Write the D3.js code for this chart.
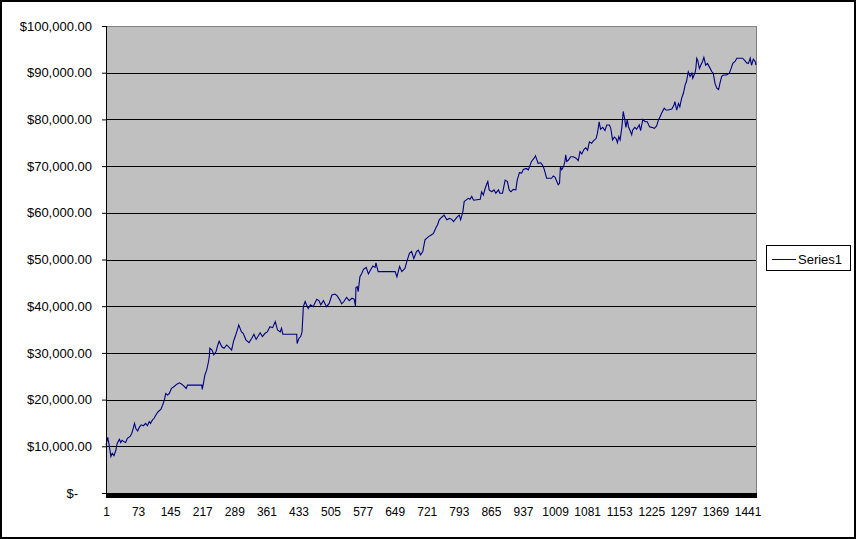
<!DOCTYPE html>
<html>
<head>
<meta charset="utf-8">
<script src="https://cdn.jsdelivr.net/npm/d3@7"></script>
<style>
  html, body { margin: 0; padding: 0; background: #fff; }
  svg { display: block; }
  text { font-family: "Liberation Sans", Arial, sans-serif; font-size: 13px; fill: #000; }
</style>
</head>
<body>
<svg id="chart" width="856" height="539"></svg>
<script>
// ---- data ----
const seriesName = "Series1";
const pointCount = 1460;
const steps = [
  1,5,8,12,15,19,23,26,31,34,
  37,41,45,49,55,59,62,65,68,72,
  76,80,85,90,94,98,101,105,109,113,
  118,124,128,132,135,139,143,148,154,160,
  166,171,176,181,184,190,216,217,219,223,
  227,231,233,234,239,243,248,252,255,261,
  266,272,279,283,287,291,296,299,305,309,
  315,322,328,333,338,342,347,352,358,363,
  369,375,381,386,392,395,398,429,430,434,
  438,441,444,448,451,455,460,466,474,479,
  483,489,496,502,508,515,520,526,530,535,
  541,547,553,558,561,562,565,567,571,575,
  579,585,590,595,600,605,607,610,612,650,
  654,657,660,665,672,676,682,687,692,698,
  702,707,712,717,725,730,736,742,745,749,
  754,760,766,772,777,781,784,790,794,797,
  802,805,809,814,818,822,826,841,844,848,
  852,855,858,861,867,872,876,882,885,891,
  894,897,902,906,910,915,921,924,929,934,
  938,944,949,953,956,962,965,968,971,977,
  981,984,987,990,1001,1005,1009,1013,1016,1019,
  1021,1024,1028,1031,1033,1035,1039,1044,1050,1056,
  1061,1065,1069,1074,1078,1082,1086,1091,1095,1101,
  1104,1108,1111,1116,1121,1125,1131,1134,1138,1142,
  1146,1149,1152,1155,1159,1162,1165,1168,1171,1174,
  1177,1181,1183,1188,1192,1198,1201,1206,1211,1216,
  1221,1226,1232,1237,1241,1245,1248,1254,1258,1263,
  1271,1276,1278,1282,1286,1289,1293,1297,1301,1304,
  1308,1312,1316,1318,1321,1323,1325,1327,1329,1333,
  1336,1340,1343,1347,1351,1355,1361,1364,1368,1372,
  1376,1379,1383,1387,1394,1400,1403,1408,1413,1417,
  1424,1430,1435,1439,1443,1447,1450,1454,1458,1460
];
const equity = [
  10300,11900,10300,7800,8500,8000,9100,10600,11500,10800,
  11300,11000,10800,11700,12100,12800,13800,14900,13800,13300,
  14100,14600,14400,14900,14400,15300,14900,15600,16000,16700,
  17400,17900,18800,19900,21300,21000,21300,22400,22800,23300,
  23600,23300,22900,22400,23100,23100,23100,22200,23100,25300,
  26300,28100,29300,31000,30600,29600,30300,31700,32500,31300,
  31000,31700,31000,30600,32400,33500,35000,36000,34500,34200,
  32800,32200,33100,34000,32900,33500,34300,33500,34200,34500,
  35600,35400,36700,34900,34500,35300,34000,34000,32000,33100,
  33500,34500,39900,41000,40300,39500,40300,39900,41500,41200,
  40300,41200,39900,40600,42400,42600,42200,41300,40500,41000,
  41900,41200,41700,41500,40000,44000,44200,43100,46300,47000,
  47900,48300,46900,47800,48600,48300,49300,48100,47400,47400,
  46300,47400,48500,47400,48100,49500,51300,51700,50200,51700,
  52000,51000,51700,54200,54900,55200,55600,56900,57400,58500,
  59000,59500,58500,58800,58600,58100,58500,59200,59500,58500,
  60200,62400,62700,63100,62900,63500,62700,62900,64500,63800,
  65200,66000,66700,64900,64500,64900,64200,64900,64200,64200,
  65600,67000,66700,64900,64500,65000,64900,67000,68600,68500,
  69300,69500,69200,70200,71000,71700,72200,71400,70600,70700,
  70200,69500,68500,67400,67400,67900,67600,66700,66000,66300,
  69900,69200,69900,71000,72400,71000,71300,72000,72000,71700,
  71200,73100,72600,73600,73900,73400,75200,74900,75400,75900,
  77000,79500,77900,78300,77600,78800,78800,78100,75600,76200,
  75900,75000,76300,75600,78400,81700,80200,78300,79900,78300,
  77700,76700,77700,78300,77900,78800,77600,80000,79500,79500,
  78400,78300,78100,78600,79900,80600,81300,82400,82000,82000,
  82200,83100,83800,82000,83400,82700,84500,85600,87400,88100,
  90200,89200,89900,88800,89500,89900,90900,93100,92700,90900,
  91600,92400,93300,91600,92000,91300,90200,89900,87700,86700,
  86400,87700,89200,89500,89500,89900,90600,92000,92400,93100,
  93100,93100,92600,92100,92000,93100,91600,92900,92400,91600
];
const yTicks = [0,10000,20000,30000,40000,50000,60000,70000,80000,90000,100000];
const xTicks = [1,73,145,217,289,361,433,505,577,649,721,793,865,937,1009,1081,1153,1225,1297,1369,1441];

// ---- layout ----
const svg = d3.select("#chart");
const plot = {left: 106, right: 756, top: 26, bottom: 493};

// outer frame
svg.append("rect").attr("x", 1).attr("y", 1).attr("width", 854).attr("height", 537)
  .attr("fill", "#fff").attr("stroke", "#000").attr("stroke-width", 2);

const x = d3.scaleLinear().domain([1, pointCount]).range([plot.left, plot.right]);
const y = d3.scaleLinear().domain([0, 100000]).range([plot.bottom, plot.top]);

// plot area
svg.append("rect")
  .attr("x", plot.left + 0.5).attr("y", plot.top + 0.5)
  .attr("width", plot.right - plot.left).attr("height", plot.bottom - plot.top)
  .attr("fill", "#C0C0C0").attr("stroke", "#808080").attr("stroke-width", 1);

// gridlines
svg.append("g").selectAll("line")
  .data(yTicks.filter(v => v > 0 && v < 100000))
  .join("line")
  .attr("x1", plot.left).attr("x2", plot.right)
  .attr("y1", d => Math.round(y(d)) + 0.5).attr("y2", d => Math.round(y(d)) + 0.5)
  .attr("stroke", "#000").attr("stroke-width", 1);

// series line
const pts = steps.map((s, i) => [s, equity[i]]);
svg.append("path")
  .datum(pts)
  .attr("fill", "none")
  .attr("stroke", "#000080")
  .attr("stroke-width", 1.1)
  .attr("d", d3.line().x(d => x(d[0])).y(d => y(d[1])));

// y axis
const moneyFmt = d3.format("$,.2f");
const yAxis = svg.append("g")
  .attr("transform", `translate(${plot.left},0)`)
  .call(d3.axisLeft(y).tickValues(yTicks).tickSize(4).tickPadding(10)
    .tickFormat(v => v === 0 ? "$-" : moneyFmt(v)));
yAxis.select(".domain").remove();
yAxis.selectAll(".tick line").attr("stroke", "#000");
yAxis.selectAll(".tick text")
  .attr("font-family", null).attr("font-size", null).attr("fill", "#000")
  .attr("dx", d => d === 0 ? -14 : 0);
svg.append("line")
  .attr("x1", plot.left + 0.5).attr("x2", plot.left + 0.5)
  .attr("y1", plot.top).attr("y2", plot.bottom)
  .attr("stroke", "#000");

// x axis: dense category ticks form a black band
svg.append("rect")
  .attr("x", plot.left).attr("y", plot.bottom)
  .attr("width", plot.right - plot.left + 1).attr("height", 5)
  .attr("fill", "#000");
const xAxis = svg.append("g")
  .attr("transform", `translate(0,${plot.bottom})`)
  .call(d3.axisBottom(x).tickValues(xTicks).tickSize(0).tickPadding(14)
    .tickFormat(d3.format("d")));
xAxis.select(".domain").remove();
xAxis.selectAll(".tick text").attr("font-family", null).attr("font-size", null).attr("fill", "#000");

// horizontally condense the x labels to match the narrow reference font
xAxis.selectAll(".tick text").each(function() {
  const w = this.getComputedTextLength();
  d3.select(this).attr("textLength", w * 0.92).attr("lengthAdjust", "spacingAndGlyphs");
});

// legend
const lg = svg.append("g");
lg.append("rect").attr("x", 766.5).attr("y", 245.5).attr("width", 84).attr("height", 25)
  .attr("fill", "#fff").attr("stroke", "#000");
lg.append("line").attr("x1", 772).attr("x2", 796).attr("y1", 259.5).attr("y2", 259.5)
  .attr("stroke", "#000080").attr("stroke-width", 1);
lg.append("text").attr("x", 798).attr("y", 264).text(seriesName);
</script>
</body>
</html>
